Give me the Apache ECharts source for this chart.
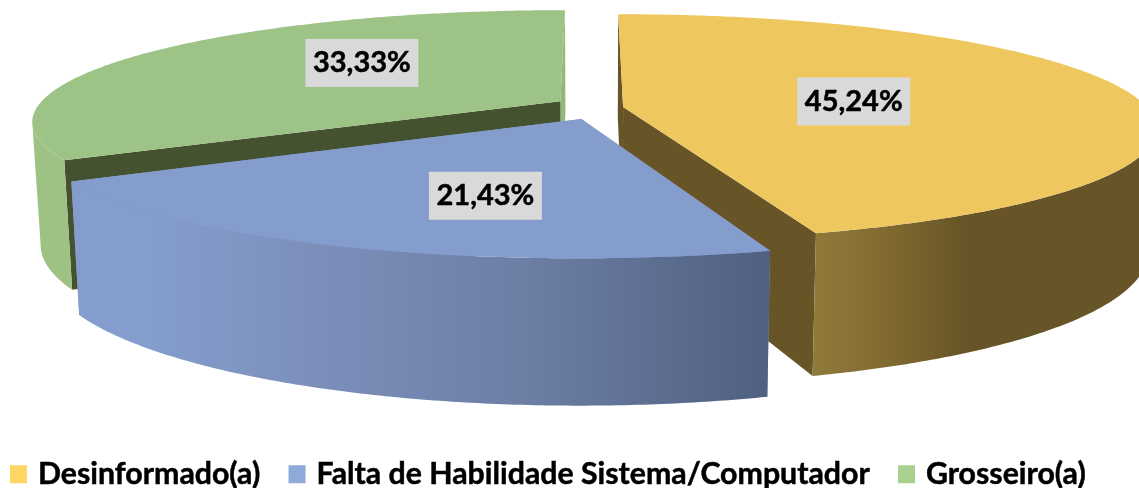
<!DOCTYPE html>
<html>
<head>
<meta charset="utf-8">
<style>html,body{margin:0;padding:0;background:#fff}#c{width:1139px;height:488px}</style>
<script src="https://cdn.jsdelivr.net/npm/echarts@6/dist/echarts.min.js"></script>
</head>
<body>
<div id="c"></div>
<script>
const categories = ['Desinformado(a)', 'Falta de Habilidade Sistema/Computador', 'Grosseiro(a)'];
const values = [45.24, 21.43, 33.33];
const valueLabels = ['45,24%', '21,43%', '33,33%'];
const legendColors = ['#FFD564', '#8EAADB', '#A9D18E'];
const topColors = ['#EEC85F', '#849DCC', '#9EC386'];
const startWallColors = ['#675528', '#849DCC', '#44522F'];
const endWallColors = ['#675528', '#849DCC', '#93B87C'];

// projection of the tilted pie
const V = {x0: 591, y0: 108.6, a: 525, b: 110, k: 0.18, h: 122, shrink: 0.985};
const explodeX = [0.0613, -0.018, -0.059];
const explodeY = [0.015, -0.0931, 0.067];
const labelOffsets = [[0.445, 0.05], [-0.158, -0.60], [-0.4125, 0.38]];
const labelBox = {w: 113, h: 48};
const total = values.reduce((s, v) => s + v, 0);
const starts = values.map((_, i) => values.slice(0, i).reduce((s, v) => s + v, 0) / total * Math.PI * 2);
const ends = values.map((v, i) => starts[i] + v / total * Math.PI * 2);

function project(X, Y, down) {
  const s = (down ? V.shrink : 1) / (1 + V.k * Y);
  return [V.x0 + s * V.a * X, V.y0 + s * (-V.b * Y + (down ? V.h : 0))];
}
function geometry(i) {
  const ox = explodeX[i], oy = explodeY[i];
  const rim = (down, frontOnly) => {
    const pts = [], n = Math.ceil((ends[i] - starts[i]) / 0.01);
    for (let j = 0; j <= n; j++) {
      const t = starts[i] + (ends[i] - starts[i]) * j / n;
      if (frontOnly && Math.cos(t) > -V.k) continue;
      pts.push(project(ox + Math.sin(t), oy + Math.cos(t), down));
    }
    return pts;
  };
  return {ox, oy, top: rim(false), frontTop: rim(false, true), frontBottom: rim(true, true),
    bottom: rim(true), c: project(ox, oy, false), cb: project(ox, oy, true)};
}
function sideFill(i) {
  if (i === 0) return new echarts.graphic.LinearGradient(815, 0, 965, 0, [
    {offset: 0, color: '#8F7A3A'}, {offset: 0.5, color: '#80692F'}, {offset: 1, color: '#675528'}], true);
  if (i === 1) return new echarts.graphic.LinearGradient(150, 0, 768, 0, [
    {offset: 0, color: '#849DCC'}, {offset: 0.25, color: '#7D90BC'}, {offset: 0.6, color: '#6D7FA5'}, {offset: 1, color: '#4F6080'}], true);
  return '#9DC283';
}
function poly(points, fill) {
  return {type: 'polygon', shape: {points}, style: {fill}};
}
function renderSlice(i) {
  const g = geometry(i), last = g.top.length - 1;
  const children = [
    poly([g.c, g.top[last], g.bottom[last], g.cb], endWallColors[i]),
    poly([g.c, g.top[0], g.bottom[0], g.cb], startWallColors[i]),
    poly(g.frontTop.concat(g.frontBottom.slice().reverse()), sideFill(i)),
    poly([g.c].concat(g.top), topColors[i])
  ];
  const p = project(g.ox + labelOffsets[i][0], g.oy + labelOffsets[i][1], false);
  children.push({
    type: 'rect', z2: 9,
    shape: {x: p[0] - labelBox.w / 2, y: p[1] - labelBox.h / 2, width: labelBox.w, height: labelBox.h},
    style: {fill: '#D9D9D9'}
  });
  children.push({
    type: 'text', x: p[0], y: p[1], z2: 10,
    style: {text: valueLabels[i], fontFamily: 'Lato', fontWeight: 'bold', fontSize: 29, fill: '#000',
      stroke: '#000', lineWidth: 0.5,
      align: 'center', verticalAlign: 'middle'}
  });
  return {type: 'group', children};
}
// painter's order: back slices first
const drawOrder = [2, 0, 1];
const chart = echarts.init(document.getElementById('c'), null, {renderer: 'canvas'});
chart.setOption({
  animation: false,
  legend: {
    left: 10, top: 459, padding: 0, itemWidth: 17, itemHeight: 18, itemGap: 28, icon: 'rect', selectedMode: false,
    data: categories.map((name, i) => ({name, itemStyle: {color: legendColors[i]}})),
    textStyle: {fontFamily: 'Lato', fontWeight: 'bold', fontSize: 30.3, color: '#000', padding: [0, 0, 0, 6],
      textBorderColor: '#000', textBorderWidth: 0.5}
  },
  series: drawOrder.map((i, z) => ({
    type: 'custom', name: categories[i], coordinateSystem: 'none', silent: true, z: 2 + z,
    itemStyle: {color: legendColors[i]},
    data: [values[i]],
    renderItem: () => renderSlice(i)
  }))
});
</script>
</body>
</html>
